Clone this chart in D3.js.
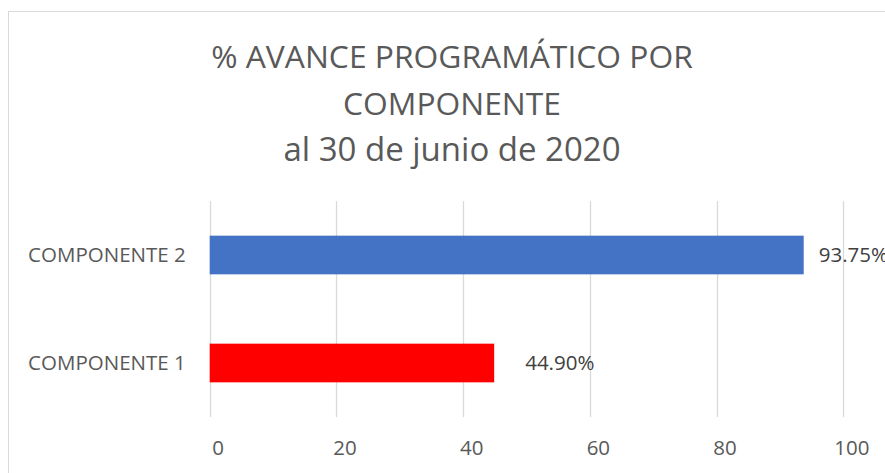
<!DOCTYPE html>
<html><head><meta charset="utf-8">
<script src="https://cdn.jsdelivr.net/npm/d3@7"></script>
<style>
html,body{margin:0;padding:0;background:#fff;}
svg{display:block;font-family:"Open Sans",sans-serif;}
</style></head>
<body>
<svg id="chart" width="885" height="473"></svg>
<script>
// ---- data ----
const titleLines = ["% AVANCE PROGRAMÁTICO POR", "COMPONENTE", "al 30 de junio de 2020"];
const categories = ["COMPONENTE 2", "COMPONENTE 1"];
const values = [93.75, 44.90];
const valueLabels = ["93.75%", "44.90%"];
const barColors = ["#4472C4", "#FF0000"];
const tickValues = [0, 20, 40, 60, 80, 100];

// ---- layout ----
const W = 885, H = 473;
const plot = {left: 209.7, right: 843.3, top: 201, bottom: 417};
const labelOffsets = [15, 31];

const svg = d3.select("#chart");

// chart border
svg.append("rect").attr("x", 8.5).attr("y", 11.5).attr("width", 900).attr("height", 500)
  .attr("fill", "#fff").attr("stroke", "#d9d9d9").attr("stroke-width", 1);

const x = d3.scaleLinear().domain([0, 100]).range([plot.left, plot.right]);
const y = d3.scaleBand().domain(categories).range([plot.top, plot.bottom])
  .paddingInner(0.642).paddingOuter(0.321);

// gridlines
svg.append("g").selectAll("line").data(tickValues).join("line")
  .attr("x1", d => Math.round(x(d)) + 0.5).attr("x2", d => Math.round(x(d)) + 0.5)
  .attr("y1", plot.top).attr("y2", plot.bottom)
  .attr("stroke", "#d9d9d9").attr("stroke-width", 1.3);

// x axis tick labels
const xAxis = d3.axisBottom(x).tickValues(tickValues).tickSize(0).tickPadding(0);
const gx = svg.append("g").attr("transform", `translate(0,${plot.bottom})`).call(xAxis);
gx.select(".domain").remove();
gx.selectAll("text").attr("dy", null).attr("y", 38).attr("dx", 8)
  .attr("font-family", "Open Sans").attr("font-size", 20.5).attr("fill", "#595959");

// y axis category labels
const yAxis = d3.axisLeft(y).tickSize(0).tickPadding(24);
const gy = svg.append("g").attr("transform", `translate(${plot.left},0)`).call(yAxis);
gy.select(".domain").remove();
gy.selectAll("text").attr("font-family", "Open Sans").attr("font-size", 20.5).attr("fill", "#595959");

// bars
svg.append("g").selectAll("rect").data(categories).join("rect")
  .attr("x", x(0))
  .attr("y", d => y(d))
  .attr("width", (d, i) => x(values[i]) - x(0))
  .attr("height", y.bandwidth())
  .attr("fill", (d, i) => barColors[i]);

// data labels
svg.append("g").selectAll("text").data(categories).join("text")
  .attr("x", (d, i) => x(values[i]) + labelOffsets[i])
  .attr("y", d => y(d) + y.bandwidth() / 2)
  .attr("dy", "0.35em")
  .attr("font-size", 20.5).attr("fill", "#404040")
  .text((d, i) => valueLabels[i]);

// title
svg.append("g").selectAll("text").data(titleLines).join("text")
  .attr("x", 452)
  .attr("y", (d, i) => 68 + i * 46.5)
  .attr("text-anchor", "middle")
  .attr("font-size", (d, i) => i === 2 ? 33 : 31.8).attr("fill", "#595959")
  .text(d => d);
</script>
</body></html>
